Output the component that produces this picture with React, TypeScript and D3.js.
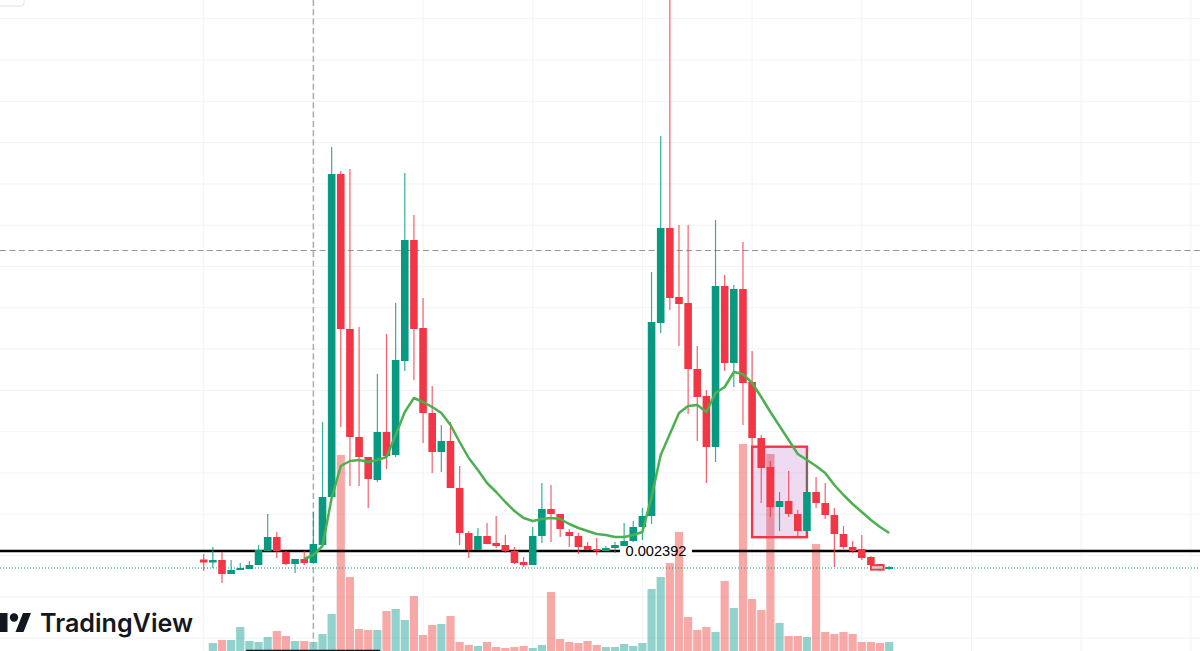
import React from "react";
import * as d3 from "d3";

const WIDTH = 1200;
const HEIGHT = 651;

// prices are in millionths, so 2392 reads 0.002392
const opens = [
  2307, 2277, 2302, 2162, 2202, 2212, 2252, 2392, 2532, 2382, 2262, 2312, 2272, 2452, 2932, 6162, 4612, 3532, 3332,
  3102, 3582, 3352, 4292, 5502, 4622, 3772, 3382, 3492, 3022, 2572, 2402, 2542, 2472, 2452, 2392, 2282, 2252, 2542,
  2812, 2762, 2582, 2542, 2442, 2412, 2392, 2422, 2442, 2492, 2632, 2742, 4672, 5622, 4932, 4872, 4212, 3942, 3432,
  5042, 4272, 5012, 4082, 3522, 3232, 2832, 2892, 2762, 2592, 2982, 2872, 2752, 2562, 2432, 2412, 2332, 2262, 2212,
];
const closes = [
  2277, 2302, 2162, 2202, 2222, 2252, 2402, 2532, 2392, 2262, 2312, 2272, 2462, 2932, 6162, 4612, 3532, 3332, 3112,
  3582, 3342, 4302, 5502, 4612, 3772, 3382, 3492, 3022, 2572, 2402, 2542, 2462, 2442, 2392, 2272, 2252, 2542, 2812,
  2762, 2612, 2542, 2432, 2402, 2392, 2422, 2452, 2492, 2632, 2742, 4682, 5622, 4922, 4862, 4212, 3932, 3432, 5042,
  4272, 5012, 4072, 3522, 3222, 2832, 2892, 2762, 2592, 2982, 2872, 2752, 2562, 2432, 2392, 2322, 2252, 2202, 2232,
];
const highs = [
  2362, 2432, 2382, 2302, 2272, 2292, 2452, 2762, 2582, 2392, 2312, 2392, 2782, 3682, 6432, 6192, 6212, 4632, 3332,
  4162, 4562, 4872, 6172, 5752, 4922, 4042, 3652, 3682, 3242, 2592, 2622, 2672, 2742, 2552, 2432, 2332, 2632, 3072,
  3052, 2762, 2612, 2572, 2482, 2522, 2442, 2482, 2672, 2692, 2822, 5182, 6542, 8000, 5652, 5652, 4442, 4002, 5702,
  5152, 5052, 5482, 4392, 3552, 3292, 2982, 3192, 2802, 3372, 3132, 3072, 2822, 2642, 2492, 2552, 2342, 2262, 2242,
];
const lows = [
  2192, 2222, 2072, 2162, 2202, 2212, 2252, 2392, 2322, 2252, 2172, 2252, 2272, 2452, 2932, 3632, 3042, 3042, 2822,
  3082, 3212, 3332, 4192, 4102, 3472, 3172, 3182, 3022, 2452, 2322, 2402, 2462, 2422, 2372, 2262, 2232, 2252, 2472,
  2482, 2532, 2432, 2362, 2402, 2352, 2392, 2372, 2442, 2482, 2502, 2662, 4572, 4802, 4442, 3762, 3492, 3072, 3282,
  4192, 4032, 3652, 3432, 2872, 2732, 2592, 2732, 2522, 2592, 2822, 2712, 2232, 2412, 2372, 2302, 2252, 2192, 2202,
];
const volumes = [
  0, 8, 11, 11, 24, 10, 9, 14, 20, 15, 10, 10, 9, 17, 37, 196, 74, 22, 21, 21, 40, 42, 31, 55, 16, 26, 27, 35, 9, 6,
  5, 9, 4, 3, 4, 5, 3, 6, 59, 12, 9, 8, 10, 6, 4, 4, 7, 5, 8, 62, 74, 88, 119, 34, 21, 24, 19, 70, 43, 207, 52, 41,
  197, 28, 15, 15, 14, 107, 19, 17, 19, 17, 9, 9, 8, 9,
];
// moving average only starts at candle 11
const maStart = 11;
const maValues = [
  2312, 2352, 2442, 2922, 3242, 3292, 3302, 3282, 3302, 3332, 3552, 3782, 3922, 3882, 3832, 3772, 3652, 3482, 3322,
  3202, 3072, 2982, 2882, 2792, 2722, 2692, 2712, 2722, 2712, 2662, 2622, 2592, 2562, 2552, 2532, 2532, 2552, 2582,
  2932, 3352, 3562, 3772, 3842, 3852, 3782, 3972, 4032, 4182, 4162, 4072, 3932, 3782, 3642, 3502, 3362, 3302, 3242,
  3172, 3052, 2952, 2862, 2782, 2702, 2632, 2572,
];
const priceGrid = [7715, 7302, 6889, 6476, 6063, 5650, 5237, 4824, 4411, 3998, 3585, 3172, 2759, 2346, 1933, 1520];
const timeGrid = [0, 12, 24, 36, 48, 60, 72, 84, 96, 108];

const levelPrice = 2392;
const lastPrice = 2222;
const crosshairPrice = 5397;
const crosshairIndex = 12;
// highlighted box, candle index and price corners
const boxIndex = [60.0, 66.0];
const boxPrice = [3435, 2530];
// small drawing stuck on the last candles
const tinyBoxIndex = [73.0, 74.4];
const tinyBoxPrice = [2250, 2205];

const UP = "#089981";
const DOWN = "#f23645";
const VOL_UP = "#26a69a";
const VOL_DOWN = "#ef5350";

export default function App() {
  const x = d3.scaleLinear().domain([0, 75]).range([203.7, 889.2]);
  const y = d3.scaleLinear().domain([7902, 0]).range([0, 790.2]);
  const yVol = d3.scaleLinear().domain([0, 651]).range([HEIGHT, 0]);

  const maLine = d3
    .line<number>()
    .x((_, i) => x(i + maStart))
    .y((d) => y(d));

  const bodyW = 7.6;
  const volW = 8.2;
  const lineY = y(levelPrice);

  return (
    <svg
      width={WIDTH}
      height={HEIGHT}
      style={{ position: "absolute", left: 0, top: 0, background: "#fff", display: "block" }}
    >
      {/* grid */}
      {priceGrid.map((p) => (
        <line key={p} x1={0} x2={WIDTH} y1={y(p)} y2={y(p)} stroke="#f2f3f5" strokeWidth={1} />
      ))}
      {timeGrid.map((t) => (
        <line key={t} x1={x(t)} x2={x(t)} y1={0} y2={HEIGHT} stroke="#f2f3f5" strokeWidth={1} />
      ))}

      {/* top left button corner */}
      <rect x={-12} y={-12} width={36} height={18} rx={3} fill="#fff" stroke="#e0e3eb" />

      {/* volume */}
      {volumes.map((v, i) => (
        <rect
          key={i}
          x={x(i) - volW / 2}
          y={yVol(v)}
          width={volW}
          height={HEIGHT - yVol(v)}
          fill={closes[i] >= opens[i] ? VOL_UP : VOL_DOWN}
          fillOpacity={0.5}
        />
      ))}

      {/* highlighted box */}
      <rect
        x={x(boxIndex[0])}
        y={y(boxPrice[0])}
        width={x(boxIndex[1]) - x(boxIndex[0])}
        height={y(boxPrice[1]) - y(boxPrice[0])}
        fill="#9c27b0"
        fillOpacity={0.17}
        stroke={DOWN}
        strokeWidth={2.4}
      />

      {/* crosshair and price lines */}
      <line
        x1={x(crosshairIndex)}
        x2={x(crosshairIndex)}
        y1={0}
        y2={HEIGHT}
        stroke="#a8abb3"
        strokeWidth={1.5}
        strokeDasharray="6 3.3"
      />
      <line
        x1={0}
        x2={WIDTH}
        y1={y(crosshairPrice)}
        y2={y(crosshairPrice)}
        stroke="#9598a1"
        strokeWidth={1}
        strokeDasharray="6 3.4"
      />
      <line
        x1={0}
        x2={WIDTH}
        y1={y(lastPrice)}
        y2={y(lastPrice)}
        stroke={UP}
        strokeWidth={1}
        strokeDasharray="1 2"
      />
      <line x1={0} x2={620} y1={lineY} y2={lineY} stroke="#000" strokeWidth={2.7} />
      <line x1={692} x2={WIDTH} y1={lineY} y2={lineY} stroke="#000" strokeWidth={2.7} />

      {/* candles */}
      {opens.map((o, i) => {
        const c = closes[i];
        const color = c >= o ? UP : DOWN;
        const top = y(Math.max(o, c));
        const bottom = y(Math.min(o, c));
        return (
          <g key={i}>
            <line
              x1={x(i)}
              x2={x(i)}
              y1={y(highs[i])}
              y2={y(lows[i])}
              stroke={color}
              strokeWidth={1.2}
              strokeOpacity={0.8}
            />
            <rect
              x={x(i) - bodyW / 2}
              y={top}
              width={bodyW}
              height={Math.max(bottom - top, 1)}
              fill={color}
            />
          </g>
        );
      })}

      {/* tiny box on the last candles */}
      <rect
        x={x(tinyBoxIndex[0])}
        y={y(tinyBoxPrice[0])}
        width={x(tinyBoxIndex[1]) - x(tinyBoxIndex[0])}
        height={y(tinyBoxPrice[1]) - y(tinyBoxPrice[0])}
        fill="#d8c4dc"
        stroke={DOWN}
        strokeWidth={1.8}
      />

      {/* moving average */}
      <path d={maLine(maValues) ?? ""} fill="none" stroke="#4caf50" strokeWidth={2.5} strokeLinejoin="round" />

      {/* label on the level line */}
      <text
        x={656}
        y={lineY + 5.2}
        textAnchor="middle"
        fontFamily="'Liberation Sans', Arial, sans-serif"
        fontSize={14.6}
        fill="#000"
      >
        {(levelPrice / 1e6).toFixed(6)}
      </text>

      {/* logo */}
      <g fill="#131722">
        <rect x={-6} y={613} width={13.5} height={19} />
        <circle cx={14} cy={617.5} r={4.2} />
        <path d="M23 613 H31 L23.5 632 H15.5 Z" />
      </g>
      <text
        x={40}
        y={632}
        fontFamily="Inter, 'Noto Sans', sans-serif"
        fontWeight={600}
        fontSize={25}
        textLength={153}
        lengthAdjust="spacingAndGlyphs"
        fill="#131722"
      >
        TradingView
      </text>

      {/* line along the bottom edge */}
      <line x1={246} x2={380} y1={650.5} y2={650.5} stroke="#131722" strokeWidth={1.4} />
    </svg>
  );
}
